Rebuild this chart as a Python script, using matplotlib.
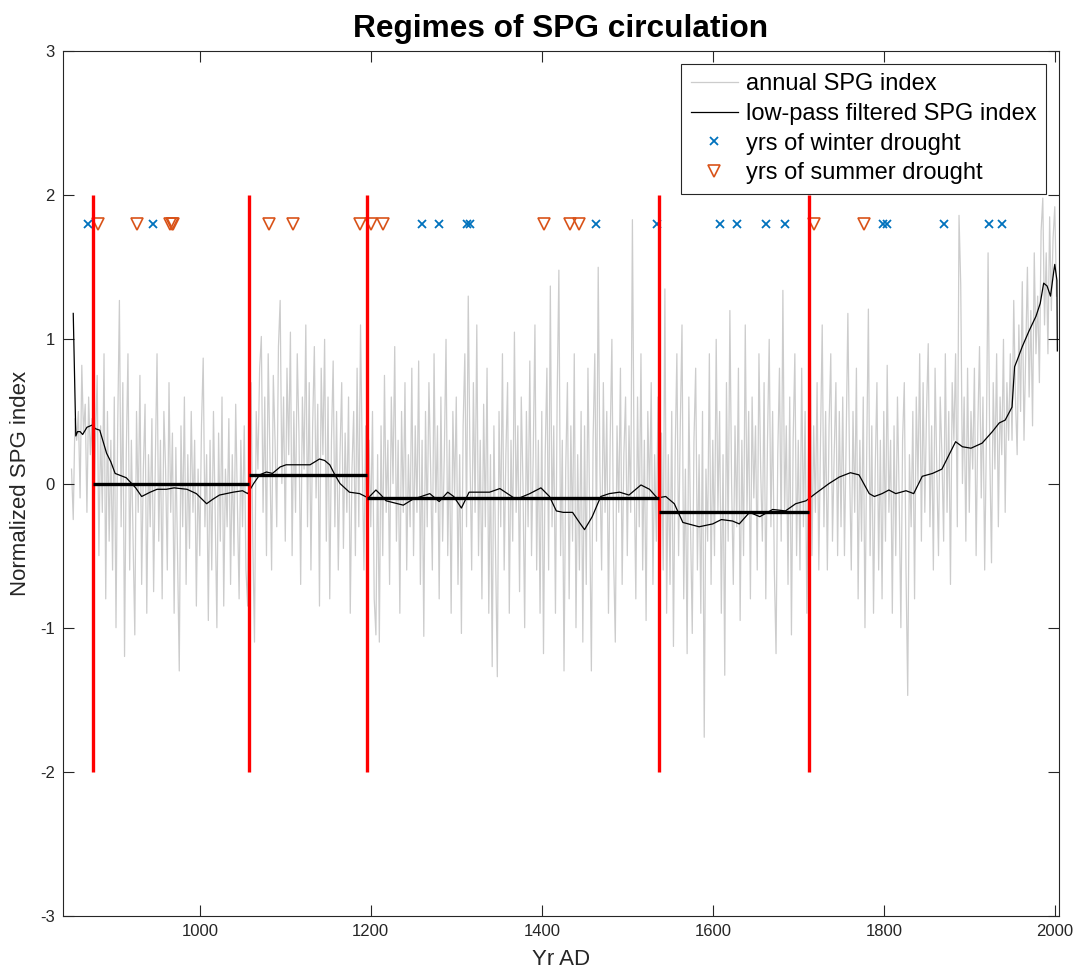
import matplotlib

matplotlib.use("Agg")
import matplotlib.pyplot as plt
import numpy as np

plt.rcParams["font.family"] = ["Liberation Sans", "DejaVu Sans"]
plt.rcParams["axes.unicode_minus"] = False

YEARS = np.arange(850, 2004, 2)
SPG = [
    0.1, -0.25, 0.45, 0.3, 0.5, -0.1, 0.82, 0.35, 0.55, -0.2, 0.6, 0.2, 0.45, -0.3, 0.3, 0.75, -0.5, 0.4, -0.2, 0.9, -0.8, 0.5, -0.4, 0.3, -0.6,
    0.6, -1.0, 0.4, 1.27, -0.3, 0.7, -1.2, 0.2, 0.9, -0.6, 0.3, -0.4, -1.05, 0.5, -0.2, 0.75, -0.7, 0.1, 0.55, -0.9, 0.2, -0.3, 0.45, -0.75, 0.15,
    0.9, -0.4, 0.3, -0.8, 0.5, 0.1, -0.6, 0.7, -0.2, 0.35, -0.9, 0.25, -0.5, -1.3, 0.4, -0.3, 0.6, -0.7, 0.2, -0.45, 0.5, -0.2, 0.3, -0.85, 0.1,
    -0.5, 0.4, 0.87, -0.3, 0.2, -0.95, 0.3, -0.6, 0.5, -0.2, -1.0, 0.35, -0.4, 0.6, -0.85, 0.1, -0.3, 0.45, -0.7, 0.2, -0.5, 0.55, -0.15, -0.8, 0.3,
    -0.3, 0.4, -0.6, -0.85, 0.3, 0.7, -0.4, -1.1, 0.5, 0.1, 0.8, 1.02, -0.2, 0.6, -0.5, 0.9, 0.2, -0.6, 0.75, 0.3, -0.3, 0.95, 1.27, 0.0, 0.6,
    -0.4, 0.8, 0.2, 1.05, -0.5, 0.5, -0.2, 0.9, 0.35, -0.7, 0.6, 0.1, 1.1, -0.3, 0.7, -0.6, 0.4, 0.95, -0.1, 0.55, -0.85, 0.8, 0.2, 1.0, -0.4,
    0.6, -0.8, 0.3, 0.85, -0.3, 0.5, -0.6, 0.2, 0.7, -0.45, 0.35, -0.2, 0.6, -0.9, 0.1, 0.5, -0.5, 0.8, -0.3, 1.1, 0.2, -0.6, 0.4, -0.5, 0.3,
    -0.3, 0.5, -0.8, -1.05, 0.2, -1.1, 0.4, -0.5, 0.75, -0.2, 0.3, -0.7, 0.6, 0.0, 0.95, -0.4, 0.3, -0.9, 0.5, -0.2, 0.7, -0.6, 0.2, -0.3, 0.8,
    -0.5, 0.4, -0.2, 0.85, -0.7, 0.3, -1.06, 0.5, -0.3, 0.7, 0.1, -0.6, 0.9, -0.2, 0.4, -0.8, 0.6, -0.4, 0.2, 1.0, -0.5, 0.3, -0.9, 0.5, -0.1,
    0.6, -0.7, 0.2, -1.04, 0.4, 0.9, -0.3, 1.3, 0.2, -0.6, 0.7, -0.2, 1.1, -0.5, 0.3, -0.8, 0.55, -0.3, 0.8, -0.9, 0.2, -1.27, 0.4, -0.5, -1.34,
    0.5, -0.3, 0.9, -0.6, 0.2, 0.7, -0.9, 0.3, -0.4, 1.05, -0.2, 0.4, -0.75, 0.6, 0.0, -1.0, 0.5, -0.3, 0.85, -0.5, 0.2, 1.1, -0.6, 0.3, -0.9,
    0.5, -1.18, 0.2, 0.8, -0.6, 1.37, -0.3, 0.4, -0.9, 0.6, 1.48, -0.5, 0.3, -1.3, 0.1, 0.7, -0.8, 0.4, -0.4, 0.9, -1.0, 0.2, -0.6, 0.5, -1.1,
    0.4, -0.7, 0.8, -0.2, -1.3, 0.3, 0.9, -0.4, 1.5, 0.1, -0.6, 0.7, -0.2, 0.5, -0.9, 0.3, 1.0, -0.5, -1.1, 0.4, -0.2, 0.8, -0.7, 0.2, 0.6,
    -0.5, 0.4, -0.2, 1.83, 0.1, -0.8, 0.6, -0.3, 0.9, -0.6, 0.3, -0.95, 0.5, -0.1, 0.7, -0.7, 0.2, -0.4, 0.6, -1.05, 0.35, -0.6, 1.35, -0.9, 0.2,
    -0.7, 0.5, -1.13, 0.2, 0.9, -0.5, 0.4, 1.1, -0.8, 0.1, -1.18, 0.6, -0.3, -1.04, 0.3, 0.8, -0.6, 0.2, -0.9, 0.5, -1.76, 0.1, -0.4, 0.9, -0.7,
    0.3, -0.5, 1.0, -0.2, 0.5, -0.9, 0.2, -1.33, 0.7, -0.4, 1.2, 0.0, -0.7, 0.4, -0.3, 0.8, -0.95, 0.3, -0.5, 1.1, -0.2, 0.5, -0.8, 0.6, -0.1,
    0.4, -0.6, 0.9, 0.1, -0.4, 0.7, -0.8, 0.3, 1.0, -0.3, 0.5, -0.6, -1.18, 0.2, 0.8, -0.4, 1.34, -0.2, 0.4, -0.7, 0.6, -1.05, 0.3, 0.9, -0.5,
    0.3, -0.6, 0.8, -0.3, 0.5, -0.9, 0.2, 1.0, -0.5, 0.4, -0.2, 0.7, -0.6, 0.3, 1.1, -0.3, 0.5, -0.6, 0.4, 0.9, -0.4, 0.2, 0.7, -0.5, 0.5,
    -0.3, 0.6, -0.5, 0.3, 1.18, 0.1, -0.6, 0.5, -0.2, 0.8, -0.8, 0.3, -0.4, 0.6, -1.0, 0.2, 1.21, -0.5, 0.4, -0.9, 0.1, 0.7, -0.6, 0.3, -0.8,
    0.5, -0.4, 0.82, -0.2, 0.3, -0.9, 0.4, -0.5, 0.6, -0.1, -1.0, 0.3, 0.7, -0.6, -1.47, 0.2, -0.3, 0.5, -0.8, 0.6, 0.0, 0.9, -0.4, 0.7, -0.2,
    0.5, 0.97, -0.3, 0.4, -0.6, 0.8, 0.1, -0.5, 0.6, 0.2, -0.4, 0.9, -0.2, 0.5, -0.7, 0.7, 0.3, 0.9, -0.3, 1.86, 1.38, 0.0, 0.6, -0.4, 0.8,
    -0.2, 0.5, 0.1, 0.8, -0.5, 0.4, 0.95, -0.1, 0.6, -0.6, 0.3, 1.6, 0.2, -0.55, 0.7, 0.1, 0.9, -0.3, 0.6, 0.2, 1.0, -0.2, 0.7, 0.3, 0.9,
    0.3, 1.27, 0.6, 0.2, 1.1, 0.5, 1.4, 0.3, 0.9, 1.5, 0.6, 1.2, 0.4, 1.6, 0.9, 1.3, 0.7, 1.75, 1.98, 1.1, 1.6, 0.9, 1.85, 1.2, 1.7, 1.92, 1.3,
]

LP_YEARS = [852, 855, 857, 860, 863, 868, 874, 878, 883, 891, 896, 901, 914, 925, 932, 942, 950, 961,
            970, 985, 996, 1008, 1015, 1023, 1039, 1050, 1056, 1063, 1070, 1078, 1085, 1094, 1101, 1117,
            1129, 1140, 1146, 1152, 1158, 1164, 1175, 1187, 1197, 1206, 1212, 1218, 1238, 1249, 1269,
            1280, 1290, 1297, 1306, 1315, 1339, 1351, 1370, 1386, 1399, 1409, 1417, 1425, 1436, 1444,
            1450, 1459, 1469, 1479, 1491, 1502, 1516, 1526, 1535, 1545, 1555, 1565, 1584, 1600, 1610,
            1623, 1631, 1643, 1655, 1670, 1685, 1697, 1709, 1720, 1736, 1748, 1761, 1771, 1783, 1789,
            1798, 1806, 1814, 1826, 1835, 1845, 1857, 1868, 1884, 1892, 1902, 1915, 1927, 1935, 1942,
            1950, 1953, 1956, 1962, 1970, 1978, 1983, 1987, 1991, 1995, 1999, 2000, 2002.5, 2003]
LP_VALUES = [1.18, 0.33, 0.36, 0.36, 0.34, 0.39, 0.405, 0.38, 0.37, 0.21, 0.15, 0.07, 0.04, -0.03, -0.09,
             -0.06, -0.04, -0.04, -0.03, -0.04, -0.07, -0.14, -0.11, -0.08, -0.06, -0.05, -0.07, 0.0, 0.06,
             0.08, 0.07, 0.115, 0.13, 0.13, 0.13, 0.17, 0.16, 0.13, 0.06, 0.0, -0.06, -0.07, -0.1, -0.045,
             -0.08, -0.12, -0.15, -0.11, -0.07, -0.125, -0.06, -0.09, -0.17, -0.06, -0.06, -0.035, -0.11,
             -0.07, -0.03, -0.09, -0.19, -0.2, -0.2, -0.27, -0.32, -0.23, -0.09, -0.07, -0.06, -0.08, -0.01,
             -0.04, -0.1, -0.09, -0.14, -0.27, -0.3, -0.28, -0.25, -0.26, -0.28, -0.2, -0.23, -0.18, -0.19,
             -0.14, -0.12, -0.07, 0.0, 0.045, 0.075, 0.06, -0.07, -0.09, -0.07, -0.045, -0.07, -0.05, -0.07,
             0.05, 0.07, 0.1, 0.29, 0.255, 0.245, 0.28, 0.36, 0.42, 0.44, 0.53, 0.81, 0.855, 0.95, 1.06,
             1.16, 1.25, 1.39, 1.37, 1.30, 1.48, 1.52, 1.41, 0.92]

WINTER = [869, 945, 1260, 1280, 1313, 1316, 1463, 1535, 1608, 1628, 1662, 1685, 1799, 1804, 1870, 1923, 1938]
SUMMER = [881, 927, 965, 967, 969, 1081, 1109, 1187, 1200, 1214, 1403, 1433, 1444, 1718, 1777]
MARK_Y = 1.8

# regime breaks and regime means
BREAKS = [875, 1057, 1196, 1537, 1712]
REGIME_MEANS = [0.0, 0.06, -0.1, -0.2]

BLUE = (0.0, 0.447, 0.741)
ORANGE = (0.85, 0.325, 0.098)
DARK = (0.15, 0.15, 0.15)

fig = plt.figure(figsize=(10.73, 9.72), dpi=100)
ax = fig.add_axes([0.0587, 0.0576, 0.9283, 0.8899])

ax.plot(YEARS, SPG, color=(0.8, 0.8, 0.8), lw=0.9, label="annual SPG index", zorder=1)
ax.plot(LP_YEARS, LP_VALUES, color="black", lw=0.9, label="low-pass filtered SPG index", zorder=2)
ax.plot(WINTER, [MARK_Y] * len(WINTER), ls="none", marker="x", color=BLUE, ms=5.5, mew=1.3,
        label="yrs of winter drought", zorder=3)
ax.plot(SUMMER, [MARK_Y] * len(SUMMER), ls="none", marker="v", mfc="none", mec=ORANGE, ms=8.5, mew=1.2,
        label="yrs of summer drought", zorder=3)

ax.vlines(BREAKS, -2, 2, color="red", lw=2.4, zorder=4)
ax.hlines(REGIME_MEANS, BREAKS[:-1], BREAKS[1:], color="black", lw=2.4, zorder=5)

ax.set_xlim(840, 2005)
ax.set_ylim(-3, 3)
ax.set_xticks([1000, 1200, 1400, 1600, 1800, 2000])
ax.set_yticks([-3, -2, -1, 0, 1, 2, 3])
ax.tick_params(direction="in", length=8, width=0.8, top=True, right=True, labelsize=12,
               colors=DARK, pad=6)
for s in ax.spines.values():
    s.set_color(DARK)
    s.set_linewidth(0.8)

ax.set_xlabel("Yr AD", fontsize=16, color=DARK, labelpad=7)
ax.set_ylabel("Normalized SPG index", fontsize=16, color=DARK, labelpad=6)
ax.set_title("Regimes of SPG circulation", fontsize=22.8, fontweight="bold", pad=10)

leg = ax.legend(loc="upper right", fontsize=17, fancybox=False, framealpha=1,
                edgecolor=DARK, borderpad=0.4, labelspacing=0.32,
                handlelength=2.0, handletextpad=0.35, borderaxespad=0.55)
leg.get_frame().set_linewidth(0.8)

fig.savefig("out.png", dpi=100)
